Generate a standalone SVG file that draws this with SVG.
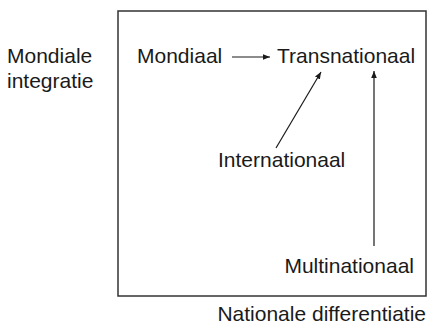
<svg xmlns="http://www.w3.org/2000/svg" width="429" height="326" viewBox="0 0 429 326">
<style>
text{font-family:"Liberation Sans",Arial,sans-serif;font-size:21px;fill:#1a1a1a}
.c{stroke:#1a1a1a;stroke-width:1.2;fill:none}
</style>
<defs>
<marker id="ah" viewBox="0 0 10 10" refX="10" refY="5" markerWidth="7" markerHeight="7" markerUnits="userSpaceOnUse" orient="auto">
<path d="M0,1 L10,5 L0,9 Z" fill="#1a1a1a"/>
</marker>
</defs>
<rect width="429" height="326" fill="#ffffff"/>
<rect id="frame" x="118" y="11" width="308" height="285" fill="none" stroke="#333" stroke-width="1.5"/>
<g id="axis-y"><text x="7" y="63">Mondiale</text><text x="7" y="88">integratie</text></g>
<g id="axis-x"><text x="426" y="321" text-anchor="end">Nationale differentiatie</text></g>
<g id="mondiaal"><text x="137" y="63">Mondiaal</text></g>
<g id="transnationaal"><text x="277" y="63">Transnationaal</text></g>
<g id="internationaal"><text x="218" y="167">Internationaal</text></g>
<g id="multinationaal"><text x="414" y="273" text-anchor="end">Multinationaal</text></g>
<g id="connectors">
<line class="c" x1="232" y1="57" x2="270" y2="57" marker-end="url(#ah)"/>
<line class="c" x1="276" y1="148" x2="321" y2="72" marker-end="url(#ah)"/>
<line class="c" x1="374" y1="246" x2="374" y2="71" marker-end="url(#ah)"/>
</g>
</svg>
